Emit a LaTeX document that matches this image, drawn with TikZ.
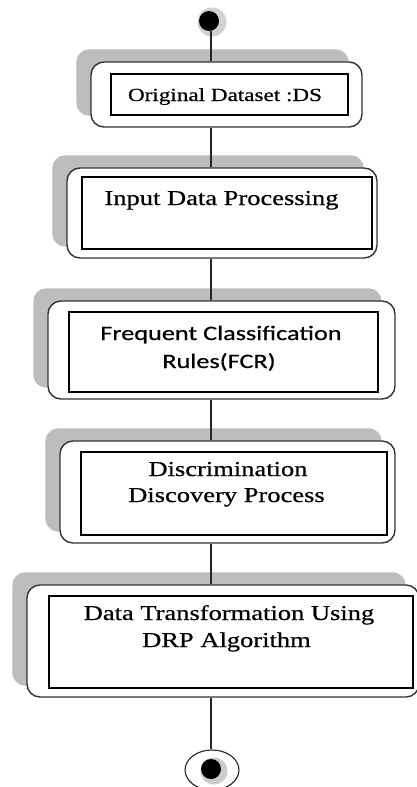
\documentclass[tikz,border=0pt]{standalone}
\usepackage{fontspec}
\setmainfont[FakeStretch=1.25,FakeBold=0.6]{Liberation Serif}
\newfontfamily\carlfont[FakeStretch=1.28,FakeBold=0.6]{Carlito}
\usetikzlibrary{shapes.geometric,calc}
\pgfdeclarelayer{bg}
\pgfsetlayers{bg,main}
\begin{document}
\begin{tikzpicture}[x=1pt,y=-1pt,
  outerbox/.style={draw=black!80, line width=1.4pt, rounded corners=13pt, fill=white, inner sep=0pt},
  shadowfill/.style={fill=black!26, rounded corners=13pt},
  innerbox/.style={draw=black, line width=1.1pt, fill=white, inner sep=0pt},
  lbl/.style={anchor=base, inner sep=0pt, text=black},
  serifbig/.style={font=\fontsize{21.2}{24}\selectfont},
  serifsmall/.style={font=\fontsize{18.5}{22}\selectfont},
  sansbig/.style={font=\carlfont\fontsize{20.5}{24}\selectfont},
  conn/.style={draw=black!85, line width=1.1pt}]
\useasboundingbox (0,0) rectangle (417,787);
\coordinate (axis) at (211,0);

% start node
\node[circle, fill=black!18, minimum size=29pt, inner sep=0pt] (starthalo) at (212,22) {};
\node[circle, fill=black, minimum size=20pt, inner sep=0pt] (start) at (209,21) {};

% boxes
\node[outerbox, minimum width=271pt, minimum height=65pt] (b1) at (226.5,94.5) {};
\node[innerbox, minimum width=237pt, minimum height=41pt] (i1) at (229.5,94.5) {};
\node[lbl, serifsmall] (t1) at (225,101) {Original Dataset :DS};

\node[outerbox, minimum width=310pt, minimum height=90pt] (b2) at (222,213) {};
\node[innerbox, minimum width=290pt, minimum height=72pt] (i2) at (227,213) {};
\node[lbl, serifbig] (t2) at (221.5,205) {Input Data Processing};

\node[outerbox, minimum width=347pt, minimum height=98pt] (b3) at (221.5,350) {};
\node[innerbox, minimum width=309pt, minimum height=80pt] (i3) at (223.5,352) {};
\node[lbl, sansbig] (t3a) at (221,340) {Frequent Classification};
\node[lbl, sansbig] (t3b) at (219,368) {Rules(FCR)};

\node[outerbox, minimum width=335pt, minimum height=102pt] (b4) at (227.5,492) {};
\node[innerbox, minimum width=306pt, minimum height=83pt] (i4) at (234,493.5) {};
\node[lbl, serifbig] (t4a) at (228,476) {Discrimination};
\node[lbl, serifbig] (t4b) at (226.5,502) {Discovery Process};

\node[outerbox, minimum width=392pt, minimum height=112pt] (b5) at (223,641) {};
\node[innerbox, minimum width=364pt, minimum height=92pt] (i5) at (231,642) {};
\node[lbl, serifbig] (t5a) at (229,620) {Data Transformation Using};
\node[lbl, serifbig] (t5b) at (226.5,647) {DRP Algorithm};

% end node
\node[ellipse, draw=black!85, line width=1.1pt, fill=white, minimum width=54pt, minimum height=40pt, inner sep=0pt] (end) at (212,770) {};
\node[circle, fill=black!20, minimum size=27pt, inner sep=0pt] (endhalo) at (214,771) {};
\node[circle, fill=black, minimum size=20pt, inner sep=0pt] (enddot) at (211,769) {};

% shadows
\begin{pgfonlayer}{bg}
\foreach \b in {b1,b2,b3,b4,b5}{
  \fill[shadowfill] ($(\b.south west)+(-14,-12)$) rectangle ($(\b.north east)+(-14,-12)$);
}
\end{pgfonlayer}

% connectors
\draw[conn] (axis |- start.south) -- (axis |- b1.north);
\draw[conn] (axis |- b1.south) -- (axis |- b2.north);
\draw[conn] (axis |- b2.south) -- (axis |- b3.north);
\draw[conn] (axis |- b3.south) -- (axis |- b4.north);
\draw[conn] (axis |- b4.south) -- (axis |- b5.north);
\draw[conn] (axis |- b5.south) -- (axis |- end.north);
\end{tikzpicture}
\end{document}
